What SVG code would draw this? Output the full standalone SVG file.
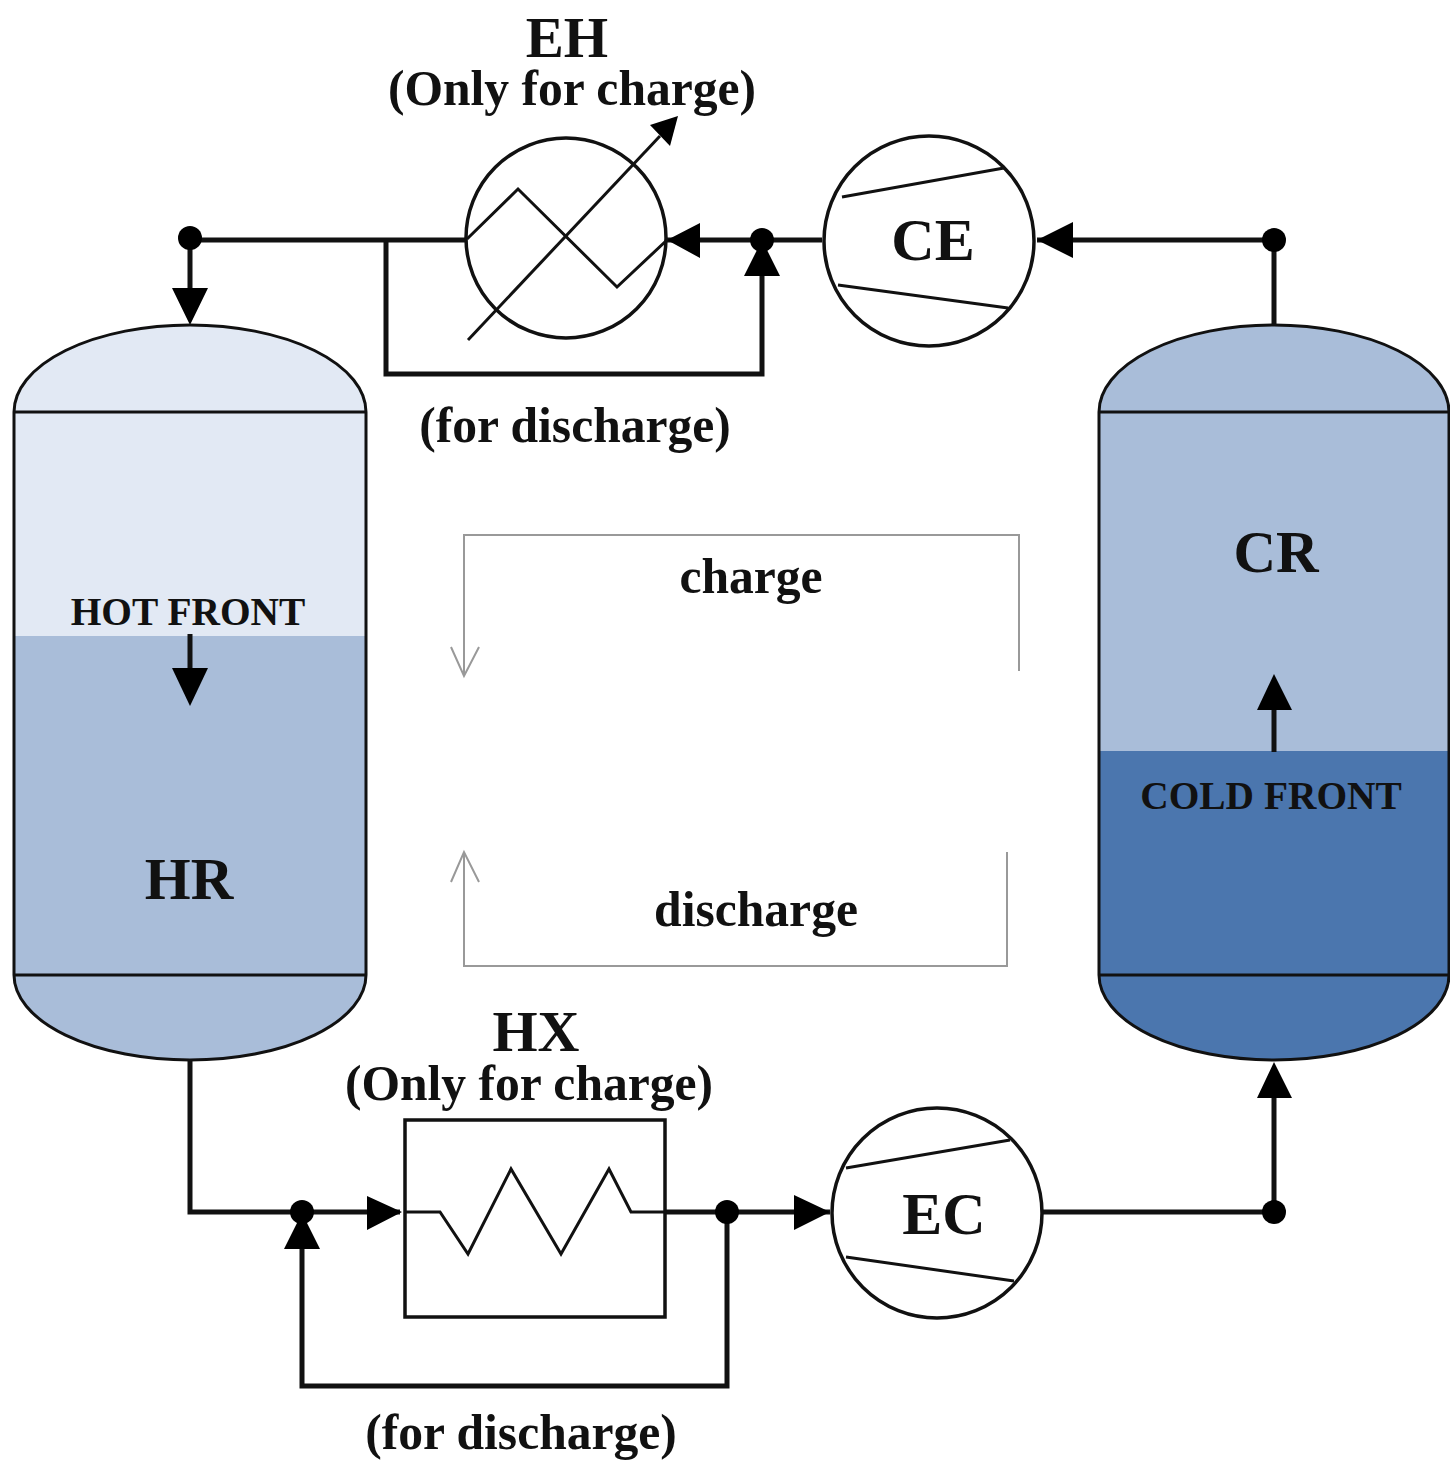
<svg xmlns="http://www.w3.org/2000/svg" width="1450" height="1461" viewBox="0 0 1450 1461">
<style>
.t{font-family:"Liberation Serif",serif;font-weight:bold;fill:#111;text-anchor:middle}
.s{font-size:49.6px}
.f{font-size:39.4px}
.n{font-size:59px}
.l{fill:none;stroke:#111;stroke-width:5}
.m{fill:none;stroke:#111;stroke-width:3}
.o{fill:#fff;stroke:#111;stroke-width:3.5}
.g{fill:none;stroke:#999;stroke-width:2}
.a{fill:#000}
</style>
<rect width="1450" height="1461" fill="#fff"/>
<g id="connectors">
<path class="l" d="M466 240H190V300M386 240V374H762V270M666 240H822M1037 240H1274M1274 325V240"/>
<path class="l" d="M190 1060V1212H400M302 1240V1386H727V1212M666 1212H830M1042 1212H1274V1090"/>
<circle class="a" cx="190" cy="238" r="12"/><circle class="a" cx="762" cy="240" r="12"/><circle class="a" cx="1274" cy="240" r="12"/>
<circle class="a" cx="302" cy="1212" r="12"/><circle class="a" cx="727" cy="1212" r="12"/><circle class="a" cx="1274" cy="1212" r="12"/>
<path class="a" d="M172 288H208L190 325ZM667 240L700 223V258ZM744 276L762 240L780 276ZM1037 240L1073 222V258ZM367 1196L402 1212L367 1230ZM284 1249L302 1213L320 1249ZM794 1195L830 1212L794 1230ZM1257 1098L1274 1062L1292 1098Z"/>
<path class="g" d="M1019 671V535H464V675M451 647L464 676L479 647"/>
<path class="g" d="M1007 852V966H464V852M451 882L464 852L479 882"/>
</g>
<g id="HR">
<path d="M14 412A176 87 0 0 1 366 412V975A176 85 0 0 1 14 975Z" fill="#a9bdd9"/>
<path d="M14 412A176 87 0 0 1 366 412V636H14Z" fill="#e2e9f4"/>
<path class="m" d="M14 412A176 87 0 0 1 366 412V975A176 85 0 0 1 14 975ZM14 412H366M14 975H366"/>
<text class="t f" x="188" y="625">HOT FRONT</text>
<path class="l" d="M190 634V670"/><path class="a" d="M172 668H208L190 706Z"/>
<text class="t n" x="189" y="899">HR</text>
</g>
<g id="CR">
<path d="M1099 412A175 87 0 0 1 1449 412V975A175 85 0 0 1 1099 975Z" fill="#4b76ae"/>
<path d="M1099 412A175 87 0 0 1 1449 412V751H1099Z" fill="#a9bdd9"/>
<path class="m" d="M1099 412A175 87 0 0 1 1449 412V975A175 85 0 0 1 1099 975ZM1099 412H1449M1099 975H1449"/>
<text class="t n" x="1276" y="572">CR</text>
<path class="l" d="M1274 752V710"/><path class="a" d="M1257 710H1292L1274 674Z"/>
<text class="t f" x="1271" y="809">COLD FRONT</text>
</g>
<g id="EH">
<circle class="o" cx="566" cy="238" r="100"/>
<path class="m" d="M467 239L518 189L617 287L667 240"/>
<path class="m" d="M468 340L660 136"/><path class="a" d="M678 116L670 146L650 125Z"/>
<text class="t" x="567" y="57" font-size="57">EH</text>
<text class="t s" x="572" y="105">(Only for charge)</text>
<text class="t s" x="575" y="442">(for discharge)</text>
</g>
<g id="CE">
<circle class="o" cx="929" cy="241" r="105"/>
<path class="m" d="M842 197L1004 168M838 285L1008 308"/>
<text class="t" x="933" y="260" font-size="60">CE</text>
</g>
<g id="HX">
<rect x="405" y="1120" width="260" height="197" fill="#fff" stroke="#111" stroke-width="3.5"/>
<path class="m" d="M405 1212H440L468 1254L511 1169L561 1254L609 1169L631 1212H666"/>
<text class="t" x="536" y="1051" font-size="58">HX</text>
<text class="t s" x="529" y="1100">(Only for charge)</text>
<text class="t s" x="521" y="1449">(for discharge)</text>
</g>
<g id="EC">
<circle class="o" cx="937" cy="1213" r="105"/>
<path class="m" d="M846 1168L1010 1140M846 1257L1014 1281"/>
<text class="t" x="944" y="1234" font-size="60">EC</text>
</g>
<g id="labels">
<text class="t s" x="751" y="593">charge</text>
<text class="t s" x="756" y="926">discharge</text>
</g>
</svg>
